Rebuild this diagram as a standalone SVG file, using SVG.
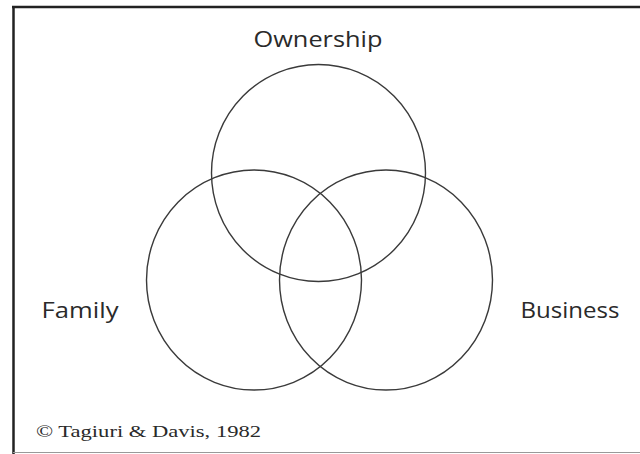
<svg xmlns="http://www.w3.org/2000/svg" width="640" height="454" viewBox="0 0 640 454">
<style>
.c{fill:none;stroke:#3a3a3a;stroke-width:1.4}
.lbl{font-family:"Open Sans","Noto Sans",sans-serif;font-size:22px;fill:#2a2a2a}
.cp{font-family:"Liberation Serif",serif;font-size:17px;fill:#2a2a2a}
</style>
<rect width="640" height="454" fill="#fff"/>
<g id="frame">
<line x1="13.5" y1="6" x2="13.5" y2="454" stroke="#222" stroke-width="2.5"/>
<line x1="12" y1="7" x2="640" y2="7" stroke="#222" stroke-width="2.5"/>
<line x1="13" y1="452.5" x2="640" y2="452.5" stroke="#999" stroke-width="1.2"/>
</g>
<g id="connectors"></g>
<g id="ownership">
<ellipse class="c" cx="318.5" cy="173" rx="107" ry="108.5"/>
<text class="lbl" x="318" y="47" text-anchor="middle" textLength="129" lengthAdjust="spacingAndGlyphs">Ownership</text>
</g>
<g id="family">
<ellipse class="c" cx="254" cy="280" rx="107.5" ry="110"/>
<text class="lbl" x="41.5" y="318" textLength="77" lengthAdjust="spacingAndGlyphs">Family</text>
</g>
<g id="business">
<ellipse class="c" cx="386" cy="280" rx="106.5" ry="110"/>
<text class="lbl" x="520.5" y="318" textLength="99" lengthAdjust="spacingAndGlyphs">Business</text>
</g>
<g id="credit">
<text class="cp" x="36" y="437" textLength="225" lengthAdjust="spacingAndGlyphs">© Tagiuri &amp; Davis, 1982</text>
</g>
</svg>
